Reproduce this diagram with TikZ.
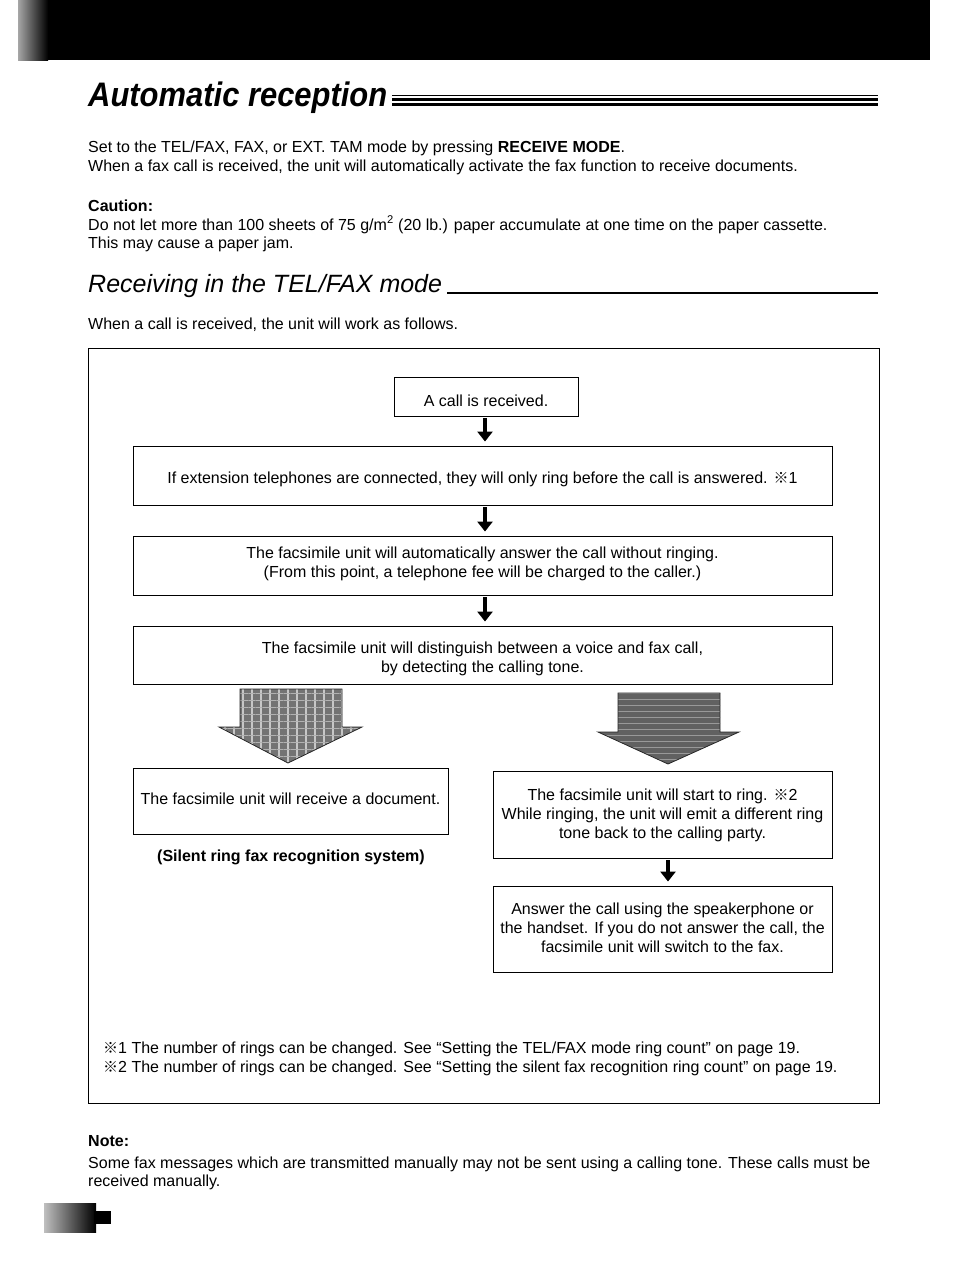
\documentclass[tikz,border=0pt]{standalone}
\usepackage{fontspec}
\setmainfont{Liberation Sans}
\newfontfamily\cjk{Noto Sans CJK JP}
\usetikzlibrary{arrows.meta,calc,patterns.meta}
\newcommand{\refmk}{{\cjk\bfseries\fontsize{15}{19}\selectfont ※}}
\newcommand{\btx}[2]{\raisebox{#1}[\height][\depth]{\begin{tabular}{@{}c@{}}#2\end{tabular}}}
\begin{document}
\begin{tikzpicture}[x=1pt,y=-1pt,
  font=\fontsize{16}{19}\selectfont,
  box/.style={draw, line width=0.9pt, align=center, inner sep=0pt},
  para/.style={anchor=base west, inner sep=0pt},
  flow/.style={-{Triangle[width=15pt,length=10pt]}, line width=4pt, shorten <=2pt, shorten >=4pt},
  bigarrow/.style={draw=black!85, line width=0.8pt}
]
\useasboundingbox (0,0) rectangle (954,1282);
% header bar
\shade[left color=black!35, right color=black] (18,0) rectangle (48,60);
\fill[black] (48,0) rectangle (930,60);
% title
\node[para] (title) at (88,106) {\fontsize{34}{40}\selectfont\bfseries\itshape\scalebox{0.91}[1]{Automatic reception}};
\draw[line width=1pt] (392,95) -- (878,95);
\draw[line width=3.2pt] (392,99.6) -- (878,99.6);
\draw[line width=3.2pt] (392,104.2) -- (878,104.2);
% intro
\node[para] (p1) at (88,152) {Set to the TEL/FAX, FAX, or EXT. TAM mode by pressing \textbf{RECEIVE MODE}.};
\node[para] (p2) at (88,171) {When a fax call is received, the unit will automatically activate the fax function to receive documents.};
\node[para] (c1) at (88,211) {\bfseries Caution:};
\node[para] (c2) at (88,230) {Do not let more than 100 sheets of 75 g/m\textsuperscript{2} (20 lb.) paper accumulate at one time on the paper cassette.};
\node[para] (c3) at (88,248) {This may cause a paper jam.};
% subtitle
\node[para] (sub) at (88,292) {\fontsize{25}{30}\selectfont\itshape Receiving in the TEL/FAX mode};
\draw[line width=2.8pt] (447,293) -- (878,293);
\node[para] (w1) at (88,329) {When a call is received, the unit will work as follows.};
% frame
\draw[line width=0.9pt] (88,348) rectangle (879,1103);
% flow boxes
\node[box, minimum width=184, minimum height=39] (b1) at (486,396.5) {\btx{-6pt}{A call is received.}};
\node[box, minimum width=699, minimum height=59] (b2) at (482.5,475.5) {\btx{-4pt}{If extension telephones are connected, they will only ring before the call is answered. \refmk1}};
\node[box, minimum width=699, minimum height=59] (b3) at (482.5,565.5) {\btx{1pt}{The facsimile unit will automatically answer the call without ringing.\\(From this point, a telephone fee will be charged to the caller.)}};
\node[box, minimum width=699, minimum height=58] (b4) at (482.5,655) {\btx{-4pt}{The facsimile unit will distinguish between a voice and fax call,\\by detecting the calling tone.}};
\node[box, minimum width=315, minimum height=66] (b5) at (290.5,801) {\btx{0pt}{The facsimile unit will receive a document.}};
\node[font=\fontsize{16}{19}\selectfont\bfseries, inner sep=0pt] (lbl) at (291,857) {(Silent ring fax recognition system)};
\node[box, minimum width=339, minimum height=87] (b6) at (662.5,814.5) {\btx{-1pt}{The facsimile unit will start to ring. \refmk2\\While ringing, the unit will emit a different ring\\tone back to the calling party.}};
\node[box, minimum width=339, minimum height=86] (b7) at (662.5,929) {\btx{-1pt}{Answer the call using the speakerphone or\\the handset. If you do not answer the call, the\\facsimile unit will switch to the fax.}};
% small arrows
\draw[flow] ([xshift=-1pt]b1.south) -- ([xshift=-1pt]b1.south |- b2.north);
\draw[flow] ([xshift=2.5pt]b2.south) -- ([xshift=2.5pt]b3.north);
\draw[flow] ([xshift=2.5pt]b3.south) -- ([xshift=2.5pt]b4.north);
\draw[flow] ([xshift=5.5pt]b6.south) -- ([xshift=5.5pt]b7.north);
% big block arrows
\def\leftarr{(240,689) -- (342,689) -- (342,727) -- (362,727) -- (288,763) -- (219,727) -- (240,727) -- cycle}
\def\rightarr{(618,693) -- (720,693) -- (720,732) -- (739,732) -- (668,764) -- (598,732) -- (618,732) -- cycle}
\fill[black!55] \leftarr;
\fill[pattern={Lines[angle=90,distance=9pt,line width=1.3pt]}, pattern color=black!22] \leftarr;
\fill[pattern={Lines[angle=0,distance=7pt,line width=1pt]}, pattern color=black!30] \leftarr;
\draw[bigarrow] \leftarr;
\fill[black!62] \rightarr;
\fill[pattern={Lines[angle=0,distance=6pt,line width=1pt]}, pattern color=black!40] \rightarr;
\draw[bigarrow] \rightarr;
% footnotes
\node[para] (f1) at (103,1053) {\refmk1 The number of rings can be changed. See “Setting the TEL/FAX mode ring count” on page 19.};
\node[para] (f2) at (103,1072) {\refmk2 The number of rings can be changed. See “Setting the silent fax recognition ring count” on page 19.};
% note
\node[para] (n1) at (88,1146) {\bfseries Note:};
\node[para] (n2) at (88,1168) {Some fax messages which are transmitted manually may not be sent using a calling tone. These calls must be};
\node[para] (n3) at (88,1186) {received manually.};
% page mark
\shade[left color=black!25, right color=black] (44,1203) rectangle (96,1232);
\fill[black] (94,1211) rectangle (111,1224);
\end{tikzpicture}
\end{document}
